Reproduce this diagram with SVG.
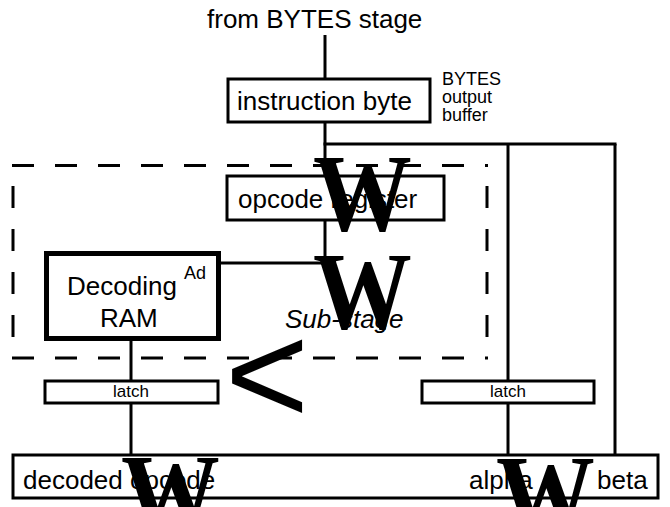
<svg xmlns="http://www.w3.org/2000/svg" width="670" height="507" viewBox="0 0 670 507">
<style>
.t{font-family:"Liberation Sans",Arial,sans-serif;fill:#000}
.big{font-size:26px}
.sm{font-size:18px}
.box{fill:none;stroke:#000;stroke-width:3}
.ln{fill:none;stroke:#000;stroke-width:3}
.dash{fill:none;stroke:#000;stroke-width:3;stroke-dasharray:22 21}
.glyph{font-family:"Liberation Serif","Times New Roman",serif;font-weight:bold;font-size:111px;fill:#000}
</style>
<rect width="670" height="507" fill="#fff"/>
<text class="t big" x="207" y="28">from BYTES stage</text>
<g id="substage">
<line class="dash" x1="12" y1="165.5" x2="488" y2="165.5"/>
<line class="dash" x1="12" y1="358" x2="488" y2="358"/>
<line class="dash" x1="13" y1="165" x2="13" y2="358" style="stroke-dashoffset:22"/>
<line class="dash" x1="487" y1="165" x2="487" y2="358" style="stroke-dashoffset:22"/>
<text class="t big" x="285" y="328" font-style="italic">Sub-stage</text>
</g>
<g id="connectors">
<line class="ln" x1="325" y1="35" x2="325" y2="79"/>
<line class="ln" x1="325" y1="122" x2="325" y2="176"/>
<line class="ln" x1="325" y1="220" x2="325" y2="264.5"/>
<line class="ln" x1="323.5" y1="144" x2="616.5" y2="144"/>
<line class="ln" x1="615" y1="144" x2="615" y2="455"/>
<line class="ln" x1="508" y1="144" x2="508" y2="381"/>
<line class="ln" x1="508" y1="403" x2="508" y2="455"/>
<line class="ln" x1="221" y1="263" x2="326.5" y2="263"/>
<line class="ln" x1="131" y1="341" x2="131" y2="381"/>
<line class="ln" x1="131" y1="403" x2="131" y2="455"/>
</g>
<g id="instruction-byte">
<rect class="box" x="228" y="79" width="202" height="43"/>
<text class="t big" x="237" y="110">instruction byte</text>
</g>
<g id="buffer-label">
<text class="t sm" x="442" y="85">BYTES</text>
<text class="t sm" x="442" y="103">output</text>
<text class="t sm" x="442" y="121">buffer</text>
</g>
<g id="opcode-register">
<rect class="box" x="227" y="176" width="217" height="44"/>
<text class="t big" x="238" y="208">opcode register</text>
</g>
<g id="decoding-ram">
<rect x="46.5" y="253.5" width="172" height="85" fill="none" stroke="#000" stroke-width="5"/>
<text class="t big" x="67" y="295">Decoding</text>
<text class="t big" x="100" y="327">RAM</text>
<text class="t sm" x="184" y="279">Ad</text>
</g>
<g id="latch-left">
<rect class="box" x="45" y="381" width="173" height="22"/>
<text class="t" font-size="17" x="131" y="397" text-anchor="middle">latch</text>
</g>
<g id="latch-right">
<rect class="box" x="422" y="381" width="172" height="22"/>
<text class="t" font-size="17" x="508" y="397" text-anchor="middle">latch</text>
</g>
<g id="output">
<rect class="box" x="13" y="455" width="645" height="43"/>
<text class="t big" x="23" y="489">decoded opcode</text>
<text class="t big" x="469" y="489">alpha</text>
<text class="t big" x="597" y="489">beta</text>
</g>
<g id="glyphs">
<text class="glyph" transform="translate(313,230) scale(0.89,1)">W</text>
<text class="glyph" transform="translate(313,328) scale(0.89,1)">W</text>
<text class="glyph" transform="translate(121,530) scale(0.89,1)">W</text>
<text class="glyph" transform="translate(496,531) scale(0.89,1)">W</text>
<text class="t" font-size="144" x="225" y="424">&lt;</text>
</g>
</svg>
